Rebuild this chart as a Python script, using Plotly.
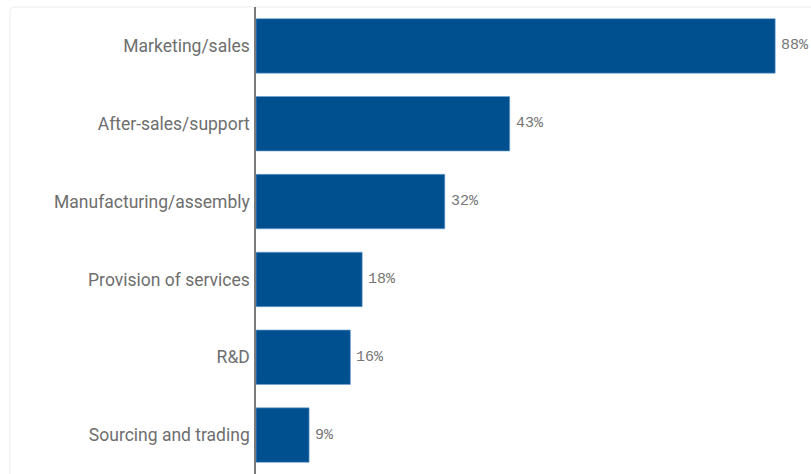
import plotly.graph_objects as go

# Share of respondents by business function (%)
categories = [
    "Marketing/sales",
    "After-sales/support",
    "Manufacturing/assembly",
    "Provision of services",
    "R&D",
    "Sourcing and trading",
]
values = [88, 43, 32, 18, 16, 9]
value_labels = [f"{v}%" for v in values]

fig = go.Figure(
    go.Bar(
        x=values,
        y=categories,
        orientation="h",
        marker=dict(color="#00508F", line=dict(color="#6fa3d6", width=0.6)),
        hoverinfo="skip",
    )
)

# value labels just right of each bar end
for cat, val, lab in zip(categories, values, value_labels):
    fig.add_annotation(
        x=val,
        y=cat,
        text=lab,
        showarrow=False,
        xanchor="left",
        yanchor="middle",
        xshift=4,
        font=dict(family="Liberation Mono", size=15, color="#767676"),
    )

fig.update_layout(
    width=811,
    height=474,
    margin=dict(l=256, r=24, t=7, b=0),
    paper_bgcolor="white",
    plot_bgcolor="white",
    bargap=0.3,
    showlegend=False,
    font=dict(family="Roboto", size=17.5, color="#6e6e6e"),
    xaxis=dict(
        range=[0, 90],
        showgrid=False,
        zeroline=False,
        showticklabels=False,
        showline=False,
        ticks="",
    ),
    yaxis=dict(
        categoryorder="array",
        categoryarray=categories[::-1],
        showgrid=False,
        zeroline=False,
        showline=True,
        linecolor="#7a7a7a",
        linewidth=1.5,
        ticks="",
        ticklabelstandoff=1,
        tickfont=dict(family="Roboto", size=17.5, color="#6e6e6e"),
    ),
    shapes=[
        # faint card outline around the chart
        dict(
            type="path",
            xref="paper",
            yref="paper",
            path="M -0.4633,-0.1 L -0.4633,0.9917 Q -0.4633,1.0 -0.4520,1.0 L 1.2,1.0",
            line=dict(color="#ececec", width=1),
            layer="below",
        )
    ],
)

fig.write_html("out.html")
